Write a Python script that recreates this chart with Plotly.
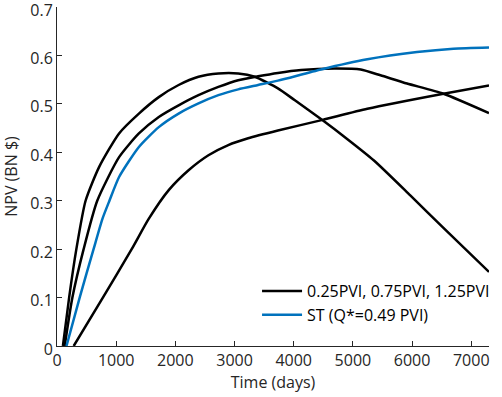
import plotly.graph_objects as go

# ------------------- Datos -------------------
# curvas negras (0.25, 0.75, 1.25 PVI) y curva azul (ST)
t_a = [100, 205, 327, 483, 713, 1049, 1384, 1720, 2055, 2391, 2727, 3062, 3342, 3733, 4014, 4489, 4908, 5356, 5970, 6530, 7300]
npv_a = [0, 0.10, 0.20, 0.30, 0.370, 0.439, 0.480, 0.514, 0.539, 0.556, 0.563, 0.563, 0.556, 0.532, 0.508, 0.466, 0.427, 0.383, 0.311, 0.244, 0.153]

t_b = [130, 260, 450, 680, 1049, 1384, 1720, 2055, 2391, 2727, 3062, 3398, 3733, 4125, 4685, 5132, 5467, 5915, 6531, 7300]
npv_b = [0, 0.10, 0.20, 0.30, 0.390, 0.439, 0.473, 0.497, 0.518, 0.535, 0.549, 0.557, 0.564, 0.570, 0.573, 0.571, 0.559, 0.542, 0.521, 0.481]

t_c = [282, 775, 1262, 1552, 1888, 2223, 2559, 2894, 3230, 3733, 4489, 5244, 6531, 7300]
npv_c = [0, 0.10, 0.20, 0.263, 0.322, 0.363, 0.394, 0.415, 0.429, 0.445, 0.467, 0.490, 0.521, 0.538]

t_st = [160, 383, 618, 769, 886, 1049, 1384, 1720, 2055, 2391, 2727, 3062, 3398, 3733, 4460, 5244, 6083, 6699, 7300]
npv_st = [0, 0.10, 0.20, 0.263, 0.30, 0.349, 0.411, 0.452, 0.480, 0.501, 0.518, 0.530, 0.539, 0.548, 0.571, 0.592, 0.607, 0.614, 0.6165]

x_ticks = [0, 1000, 2000, 3000, 4000, 5000, 6000, 7000]
y_ticks = [0, 0.1, 0.2, 0.3, 0.4, 0.5, 0.6, 0.7]
y_labels = ['0', '0.1', '0.2', '0.3', '0.4', '0.5', '0.6', '0.7']

etiqueta_negra = '0.25PVI, 0.75PVI, 1.25PVI'
etiqueta_azul = 'ST (Q*=0.49 PVI)'

# ------------------- Figura -------------------
fig = go.Figure()
negro = dict(color='black', width=2.5, shape='spline', smoothing=0.6)
for i, (tt, vv) in enumerate([(t_a, npv_a), (t_b, npv_b), (t_c, npv_c)]):
    fig.add_trace(go.Scatter(x=tt, y=vv, mode='lines', line=negro, name=etiqueta_negra,
                             legendgroup='pvi', showlegend=(i == 0)))
fig.add_trace(go.Scatter(x=t_st, y=npv_st, mode='lines', name=etiqueta_azul,
                         line=dict(color='#0072BD', width=2.5, shape='spline', smoothing=0.6)))

eje = dict(showline=True, linecolor='#262626', linewidth=1, ticks='inside', ticklen=5,
           tickcolor='#262626', showgrid=False, zeroline=False, mirror=False, automargin=False,
           ticklabeloverflow='allow', tickfont=dict(size=16, color='#262626'))
fig.update_xaxes(range=[0, 7300], tickvals=x_ticks, title=dict(text='Time (days)', standoff=6,
                 font=dict(size=16, color='#262626')), **eje)
fig.update_yaxes(range=[0, 0.7001], tickvals=y_ticks, ticktext=y_labels, ticklabelshift=3,
                 title=dict(text='NPV (BN $)', standoff=8, font=dict(size=16, color='#262626')), **eje)

fig.update_layout(width=502, height=397, margin=dict(l=57, r=9, t=7, b=51),
                  plot_bgcolor='white', paper_bgcolor='white',
                  font=dict(family='Open Sans', size=16, color='#262626'),
                  legend=dict(x=1.014, xanchor='right', y=0.041, yanchor='bottom',
                              bgcolor='rgba(0,0,0,0)', font=dict(size=16, color='black'),
                              itemwidth=40, tracegroupgap=0))
# quitar el margen del body para que la figura empiece en (0, 0)
fig.write_html("out.html", config={'displayModeBar': False},
               post_script="document.body.style.margin='0';")
